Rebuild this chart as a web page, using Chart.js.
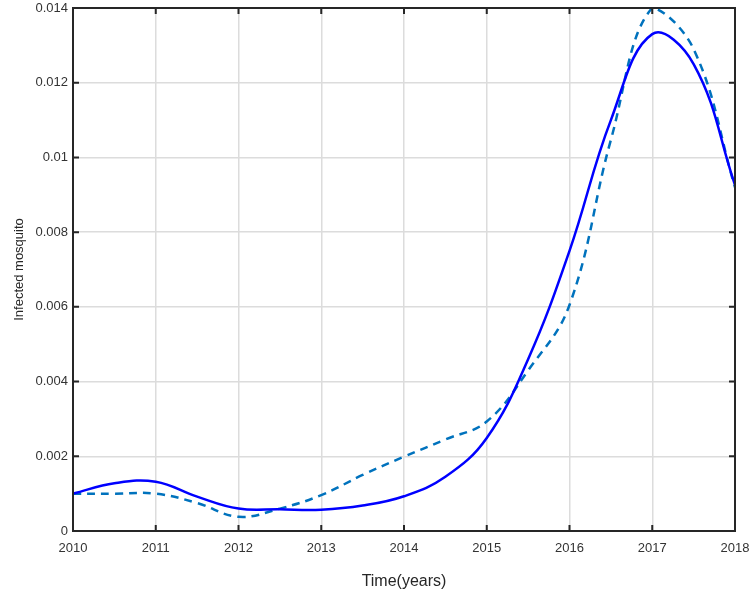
<!DOCTYPE html>
<html>
<head>
<meta charset="utf-8">
<script src="https://cdn.jsdelivr.net/npm/chart.js@4/dist/chart.umd.min.js"></script>
<style>
    html, body { margin: 0; padding: 0; background: #fff; }
    #wrap { width: 751px; height: 595px; }
</style>
</head>
<body>
<div id="wrap"><canvas id="chart"></canvas></div>
<script>
// years sampled every half year
const years = [2010, 2010.5, 2011, 2011.5, 2012, 2012.5, 2013, 2013.5, 2014, 2014.5, 2015, 2015.5, 2016, 2016.5, 2017, 2017.5, 2018];
const modelValues = [0.00100, 0.00128, 0.00132, 0.00092, 0.00060, 0.00058, 0.00057, 0.00068, 0.00093, 0.00145, 0.00249, 0.00460, 0.00750, 0.01100, 0.01330, 0.01250, 0.00926];
const dataValues = [0.00100, 0.00100, 0.00100, 0.00075, 0.00038, 0.00060, 0.00096, 0.00150, 0.00199, 0.00245, 0.00293, 0.00430, 0.00605, 0.01047, 0.01400, 0.01290, 0.00920];
const yTicks = [0, 0.002, 0.004, 0.006, 0.008, 0.01, 0.012, 0.014];

function toPoints(xs, ys) {
    return xs.map(function (x, i) { return { x: x, y: ys[i] }; });
}

// box around the plot with inward tick marks, matlab style
const framePlugin = {
    id: 'frame',
    afterDatasetsDraw: function (chart) {
        const c = chart.ctx;
        const a = chart.chartArea;
        const xs = chart.scales.x;
        const ys = chart.scales.y;
        c.save();
        c.strokeStyle = '#262626';
        c.lineWidth = 2;
        c.beginPath();
        xs.ticks.forEach(function (t) {
            const px = xs.getPixelForValue(t.value);
            c.moveTo(px, a.bottom); c.lineTo(px, a.bottom - 6);
            c.moveTo(px, a.top); c.lineTo(px, a.top + 6);
        });
        ys.ticks.forEach(function (t) {
            const py = ys.getPixelForValue(t.value);
            c.moveTo(a.left, py); c.lineTo(a.left + 6, py);
            c.moveTo(a.right, py); c.lineTo(a.right - 6, py);
        });
        c.stroke();
        c.strokeRect(a.left, a.top, a.right - a.left, a.bottom - a.top);
        c.restore();
    }
};

const ctx = document.getElementById('chart');
new Chart(ctx, {
    type: 'line',
    data: {
        datasets: [
            {
                label: 'Model',
                data: toPoints(years, modelValues),
                borderColor: '#0000ff',
                borderWidth: 2.5,
                pointRadius: 0,
                tension: 0.4,
                fill: false
            },
            {
                label: 'Data',
                data: toPoints(years, dataValues),
                borderColor: '#0072bd',
                borderWidth: 2.5,
                borderDash: [8, 6],
                pointRadius: 0,
                tension: 0.4,
                fill: false
            }
        ]
    },
    options: {
        responsive: true,
        maintainAspectRatio: false,
        animation: false,
        layout: { padding: { top: 8, right: 16, left: 8, bottom: 0 } },
        plugins: {
            legend: { display: false },
            tooltip: { enabled: false }
        },
        scales: {
            x: {
                type: 'linear',
                min: 2010,
                max: 2018,
                afterFit: function (scale) {
                    scale.height = 64;
                    scale.paddingLeft = 0;
                    scale.paddingRight = 0;
                },
                ticks: {
                    stepSize: 1,
                    color: '#333',
                    padding: 10,
                    font: { family: 'Liberation Sans', size: 13 },
                    maxRotation: 0,
                    callback: function (value) { return String(value); }
                },
                grid: { color: '#dcdcdc', lineWidth: 1.5, drawTicks: false },
                border: { display: false },
                title: {
                    display: true,
                    text: 'Time(years)',
                    color: '#262626',
                    font: { family: 'Liberation Sans', size: 16 },
                    padding: { top: 4 }
                }
            },
            y: {
                min: 0,
                max: 0.014,
                afterFit: function (scale) {
                    scale.width = 65;
                    scale.paddingTop = 0;
                    scale.paddingBottom = 0;
                },
                afterBuildTicks: function (scale) {
                    scale.ticks = yTicks.map(function (v) { return { value: v }; });
                },
                ticks: {
                    color: '#333',
                    padding: 5,
                    font: { family: 'Liberation Sans', size: 13 },
                    callback: function (value) { return String(value); }
                },
                grid: { color: '#dcdcdc', lineWidth: 1.5, drawTicks: false },
                border: { display: false },
                title: {
                    display: true,
                    text: 'Infected mosquito',
                    color: '#262626',
                    font: { family: 'Liberation Sans', size: 13 },
                    padding: { bottom: 2 }
                }
            }
        }
    },
    plugins: [framePlugin]
});
</script>
</body>
</html>
